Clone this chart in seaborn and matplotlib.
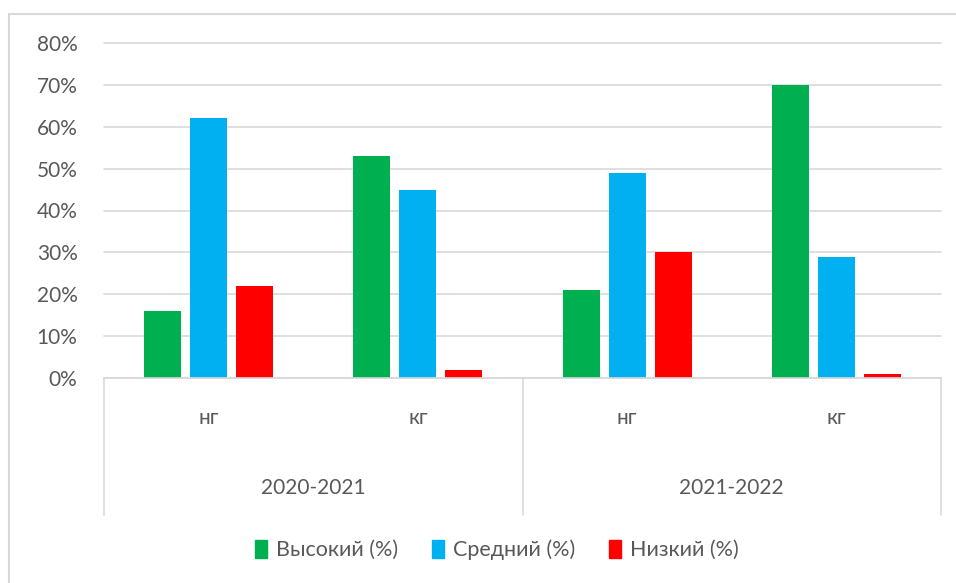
import matplotlib
matplotlib.use("Agg")
import matplotlib.pyplot as plt
import seaborn as sns
import pandas as pd
from matplotlib.patches import Rectangle
from matplotlib.ticker import PercentFormatter, MultipleLocator

# data
years = ["2020-2021", "2021-2022"]
groups = ["нг", "кг"]
levels = ["Высокий (%)", "Средний (%)", "Низкий (%)"]
high = [16, 53, 21, 70]
mid = [62, 45, 49, 29]
low = [22, 2, 30, 1]
colors = ["#00B050", "#00B0F0", "#FF0000"]

cats = [f"{y} {g}" for y in years for g in groups]
rows = []
for lvl, vals in zip(levels, [high, mid, low]):
    for c, v in zip(cats, vals):
        rows.append({"cat": c, "level": lvl, "value": v})
df = pd.DataFrame(rows)

sns.set_theme(style="white")
plt.rcParams["font.family"] = ["Lato", "DejaVu Sans"]
text_color = "#595959"
grid_color = "#D9D9D9"

fig = plt.figure(figsize=(9.56, 5.83), dpi=100)
ax = fig.add_axes([104 / 956, 1 - 378 / 583, (941 - 104) / 956, (378 - 43) / 583])

sns.barplot(data=df, x="cat", y="value", hue="level", order=cats, hue_order=levels,
            palette=colors, width=0.66, gap=0.2, linewidth=0, saturation=1, ax=ax)

ax.set_xlim(-0.5, len(cats) - 0.5)
ax.set_ylim(0, 80)
ax.yaxis.set_major_locator(MultipleLocator(10))
ax.yaxis.set_major_formatter(PercentFormatter(100, decimals=0))
ax.grid(axis="y", color=grid_color, lw=1.2, clip_on=False)
ax.set_axisbelow(True)
for s in ["top", "right", "left"]:
    ax.spines[s].set_visible(False)
ax.spines["bottom"].set_color(grid_color)
ax.spines["bottom"].set_linewidth(1.2)
ax.tick_params(axis="y", length=0, pad=19, labelsize=15, labelcolor=text_color)
ax.set_xticks([])
ax.set_xlabel("")
ax.set_ylabel("")
ax.legend_.remove()

# multi-level category axis
trans = ax.get_xaxis_transform()
ax_h = (378 - 43) / 583 * 5.83 * 100
sub_y = -(418 - 378) / ax_h
year_y = -(488 - 378) / ax_h
line_bottom = -(515 - 378) / ax_h
for i, c in enumerate(cats):
    ax.text(i, sub_y, c.split(" ")[1], transform=trans, ha="center", va="center",
            fontsize=15, color=text_color)
for j, y in enumerate(years):
    ax.text(2 * j + 0.5, year_y, y, transform=trans, ha="center", va="center",
            fontsize=15, color=text_color)
for xpos in [-0.5, 1.5, 3.5]:
    ax.plot([xpos, xpos], [0, line_bottom], transform=trans, color=grid_color,
            lw=1.2, clip_on=False)

# legend
handles = [Rectangle((0, 0), 1, 1, color=c) for c in colors]
fig.legend(handles, levels, loc="center", bbox_to_anchor=(497 / 956, 1 - 550 / 583), ncol=3,
           frameon=False, fontsize=15.5, labelcolor=text_color, handlelength=0.55,
           handleheight=0.9, handletextpad=0.4, columnspacing=1.6)

# outer chart frame
fig.patches.append(Rectangle((9 / 956, -0.1), 1.2, 1 - 14 / 583 + 0.1,
                             transform=fig.transFigure, fill=False,
                             edgecolor=grid_color, lw=1.5))

fig.savefig("out.png", dpi=100)
